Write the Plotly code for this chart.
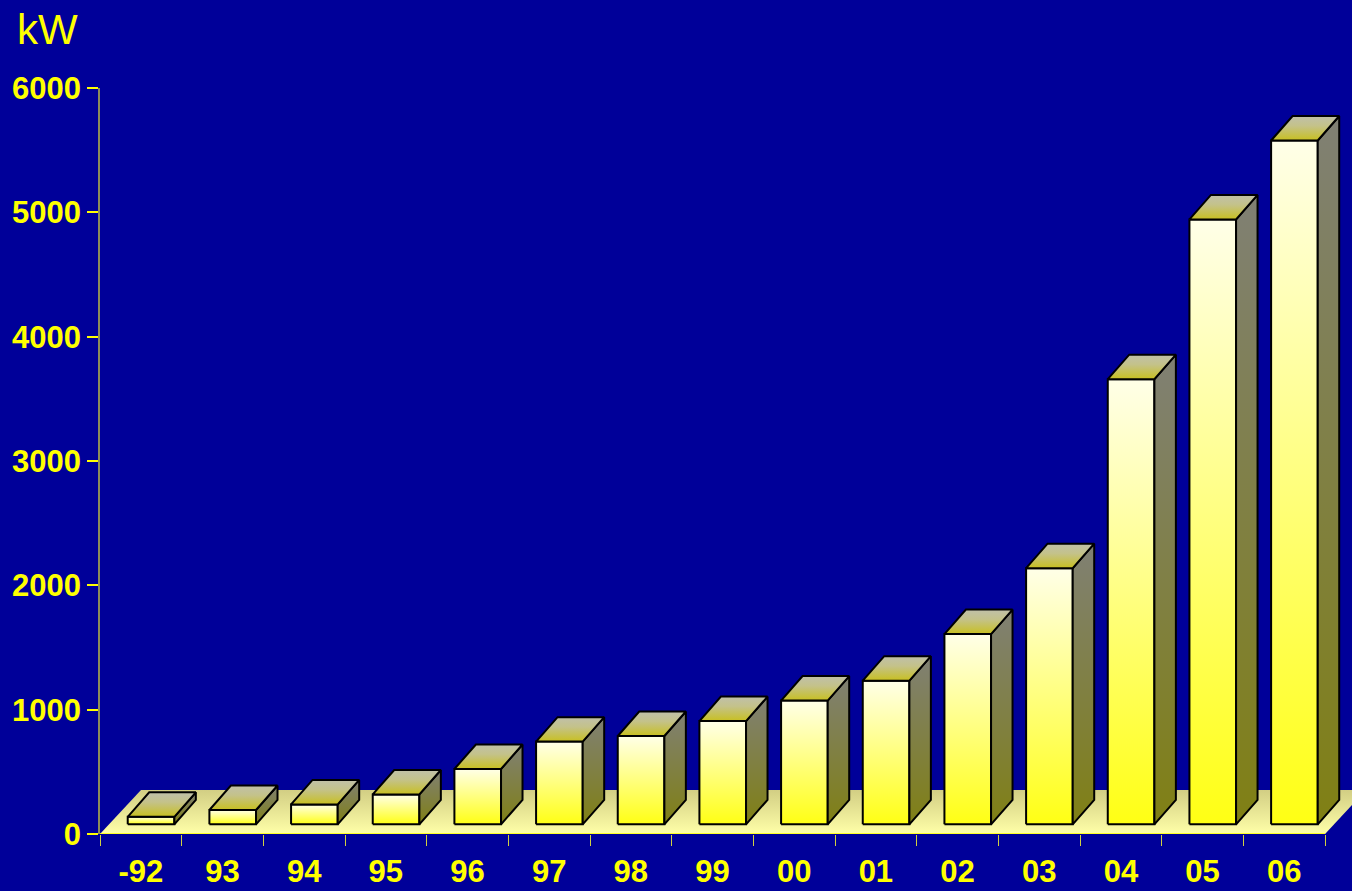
import plotly.graph_objects as go

# data
years = ['-92', '93', '94', '95', '96', '97', '98', '99', '00', '01', '02', '03', '04', '05', '06']
power_kw = [60, 115, 160, 240, 445, 665, 710, 830, 995, 1155, 1530, 2060, 3580, 4865, 5500]
y_ticks = [0, 1000, 2000, 3000, 4000, 5000, 6000]

BG = '#000099'
YELLOW = '#ffff00'
FONT = 'Arial, Liberation Sans, sans-serif'

# pseudo-3D geometry (axis units: 1 category wide, kW high)
BAR_W = 0.571
OFF_X, OFF_Y = 0.125, 78      # bar front face offset into the floor
DEP_X, DEP_Y = 0.263, 197     # bar depth
FLOOR_X, FLOOR_Y = 0.502, 354 # floor depth


def poly(xs, ys, scale):
    return go.Scatter(
        x=xs + [xs[0]], y=ys + [ys[0]], mode='lines', fill='toself',
        fillgradient=dict(type='vertical', colorscale=scale),
        line=dict(color='black', width=2), hoverinfo='skip', showlegend=False,
    )


fig = go.Figure()

# floor
n = len(years)
fig.add_trace(poly([0, n, n + FLOOR_X, FLOOR_X], [0, 0, FLOOR_Y, FLOOR_Y],
                   [[0, '#ffffa8'], [1, '#d2ce84']]))
fig.data[-1].line.width = 0

for i, v in enumerate(power_kw):
    x0 = i + (1 - BAR_W) / 2 + OFF_X
    x1 = x0 + BAR_W
    y0 = OFF_Y
    y1 = OFF_Y + v
    # front
    fig.add_trace(poly([x0, x1, x1, x0], [y0, y0, y1, y1],
                       [[0, '#ffff14'], [1, '#ffffe8']]))
    # side
    fig.add_trace(poly([x1, x1 + DEP_X, x1 + DEP_X, x1], [y0, y0 + DEP_Y, y1 + DEP_Y, y1],
                       [[0, '#808014'], [1, '#808074']]))
    # top
    fig.add_trace(poly([x0, x1, x1 + DEP_X, x0 + DEP_X], [y1, y1, y1 + DEP_Y, y1 + DEP_Y],
                       [[0, '#c8c020'], [0.6, '#c4c28a'], [1, '#c0c0aa']]))

# front edge of the floor acts as category axis line
fig.add_shape(type='line', xref='x', yref='y', x0=0, x1=n, y0=0, y1=0,
              line=dict(color=YELLOW, width=1.5), layer='above')

fig.update_xaxes(
    range=[0, 15.33], tickmode='array', tickvals=[i + 0.5 for i in range(n)], ticktext=years,
    ticks='', showgrid=False, zeroline=False, showline=False, fixedrange=True,
    tickfont=dict(family=FONT, size=31, color=YELLOW, weight='bold'), ticklabelstandoff=16,
    minor=dict(tickmode='array', tickvals=list(range(n + 1)), ticks='outside',
               ticklen=11, tickcolor='#d0d040', tickwidth=1, showgrid=False),
)
fig.update_yaxes(
    range=[0, 6000], tickvals=y_ticks, ticks='outside', ticklen=11, tickcolor=YELLOW,
    tickwidth=1.5, showgrid=False, zeroline=False, showline=True, linecolor='#8c8c5a',
    linewidth=1.5, fixedrange=True,
    tickfont=dict(family=FONT, size=31, color=YELLOW, weight='bold'), ticklabelstandoff=0,
)

fig.add_annotation(text='kW', xref='paper', yref='paper', x=-0.068, y=1.113,
                   xanchor='left', yanchor='top', showarrow=False,
                   font=dict(family=FONT, size=42, color=YELLOW))

fig.update_layout(
    width=1352, height=891, paper_bgcolor=BG, plot_bgcolor=BG,
    margin=dict(l=100, r=0, t=88, b=57), showlegend=False,
)

fig.write_html('out.html', config={'displayModeBar': False},
               post_script="document.body.style.margin='0';")
